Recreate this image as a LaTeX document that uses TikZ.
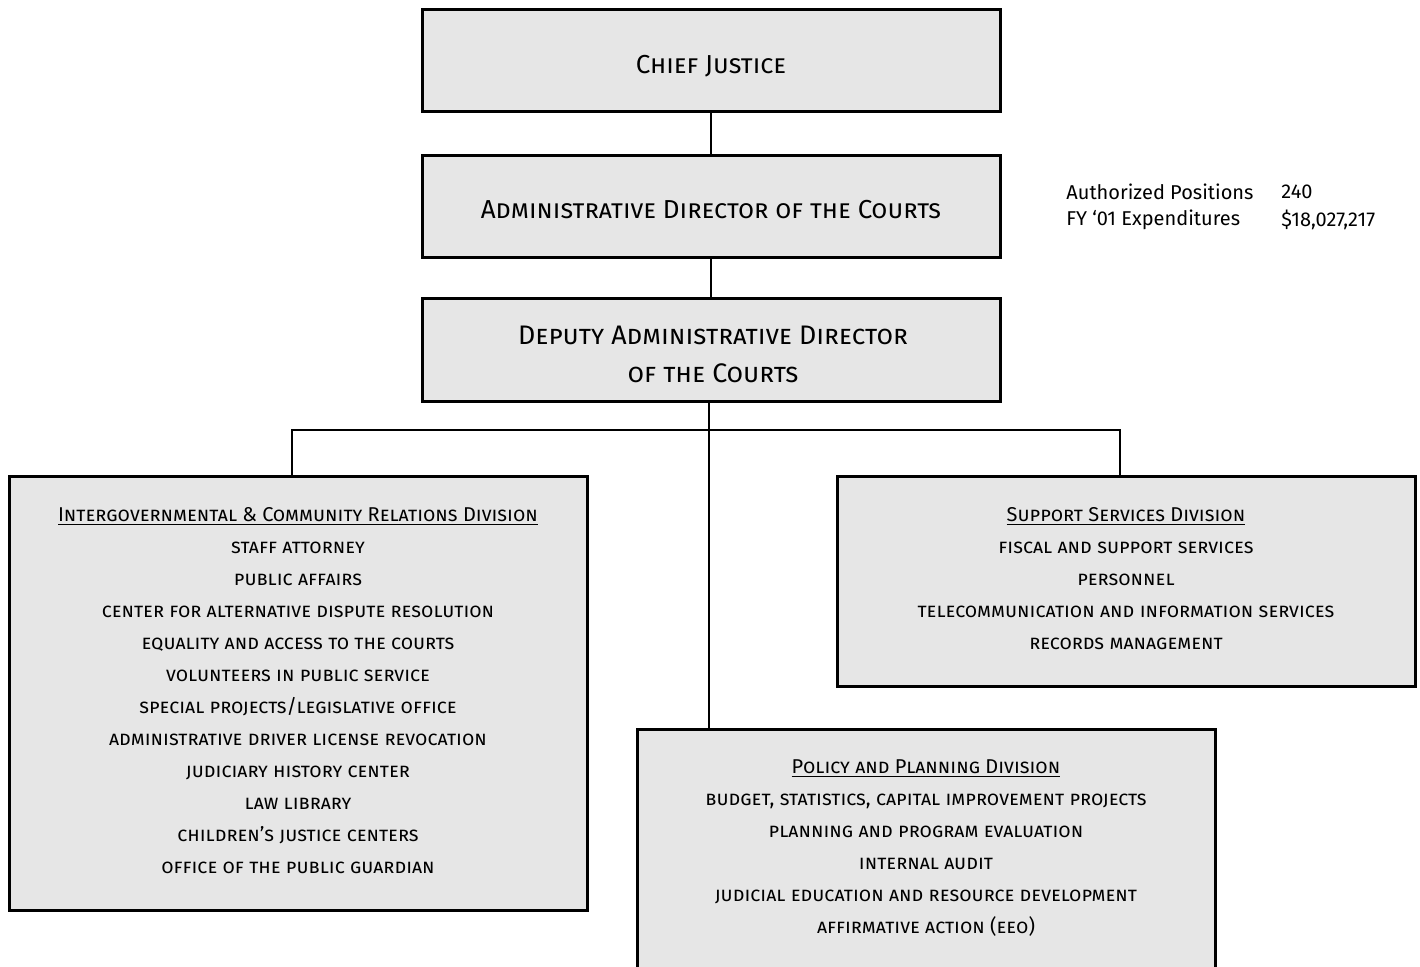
\documentclass[tikz,border=0pt]{standalone}
\usepackage{fontspec}
\setmainfont{Fira Sans}
\begin{document}
\begin{tikzpicture}[x=0.5pt,y=-0.5pt,
  box/.style={draw=black, line width=1.5pt, fill=boxgray, inner sep=0pt, minimum width=289pt},
  conn/.style={draw=black, line width=1pt},
  toptext/.style={font=\fontsize{13}{19}\selectfont\scshape, align=center},
  divtext/.style={font=\fontsize{10}{16}\selectfont\scshape, align=center, anchor=north, inner sep=0pt},
  stat/.style={font=\fontsize{10}{14}\selectfont, anchor=west, inner sep=0pt}]
\definecolor{boxgray}{HTML}{E6E6E6}
\useasboundingbox (0,0) rectangle (1420,966);
% top boxes
\node[box, minimum height=51pt] (chief) at (711,60) {};
\node[toptext] (chieft) at (711,66) {Chief Justice};
\node[box, minimum height=51pt] (admin) at (711,206) {};
\node[toptext] (admint) at (711,210) {Administrative Director of the Courts};
\node[box, minimum height=51.5pt] (deputy) at (711,349.5) {};
\node[toptext, font=\fontsize{13.4}{19}\selectfont\scshape] (deputyt) at (713,354) {Deputy Administrative Director\\of the Courts};
% stats
\node[stat] (s1) at (1066,192) {Authorized Positions};
\node[stat] (s1v) at (1281,192) {240};
\node[stat] (s2) at (1066,220) {FY ‘01 Expenditures};
\node[stat] (s2v) at (1281,220) {\$18,027,217};
% division boxes
\node[box, minimum height=217pt] (left) at (298,693) {};
\node[box, minimum height=105pt] (right) at (1126,581) {};
\node[box, minimum height=121pt] (bottom) at (926,850) {};
\node[divtext] (leftt) at (298,507) {\underline{Intergovernmental \& Community Relations Division}\\
staff attorney\\ public affairs\\ center for alternative dispute resolution\\
equality and access to the courts\\ volunteers in public service\\
special projects/legislative office\\ administrative driver license revocation\\
judiciary history center\\ law library\\ children’s justice centers\\
office of the public guardian};
\node[divtext] (rightt) at (1126,507) {\underline{Support Services Division}\\
fiscal and support services\\ personnel\\
telecommunication and information services\\ records management};
\node[divtext] (bottomt) at (926,759) {\underline{Policy and Planning Division}\\
budget, statistics, capital improvement projects\\
planning and program evaluation\\ internal audit\\
judicial education and resource development\\ affirmative action (eeo)};
% connectors
\coordinate (bus) at (709,430);
\draw[conn] (chief.south) -- (admin.north);
\draw[conn] (admin.south) -- (deputy.north);
\draw[conn] (deputy.south -| bus) -- (bottom.north -| bus);
\draw[conn] (left.north -| 292,0) |- (bus) -| (right.north -| 1120,0);
\end{tikzpicture}
\end{document}
